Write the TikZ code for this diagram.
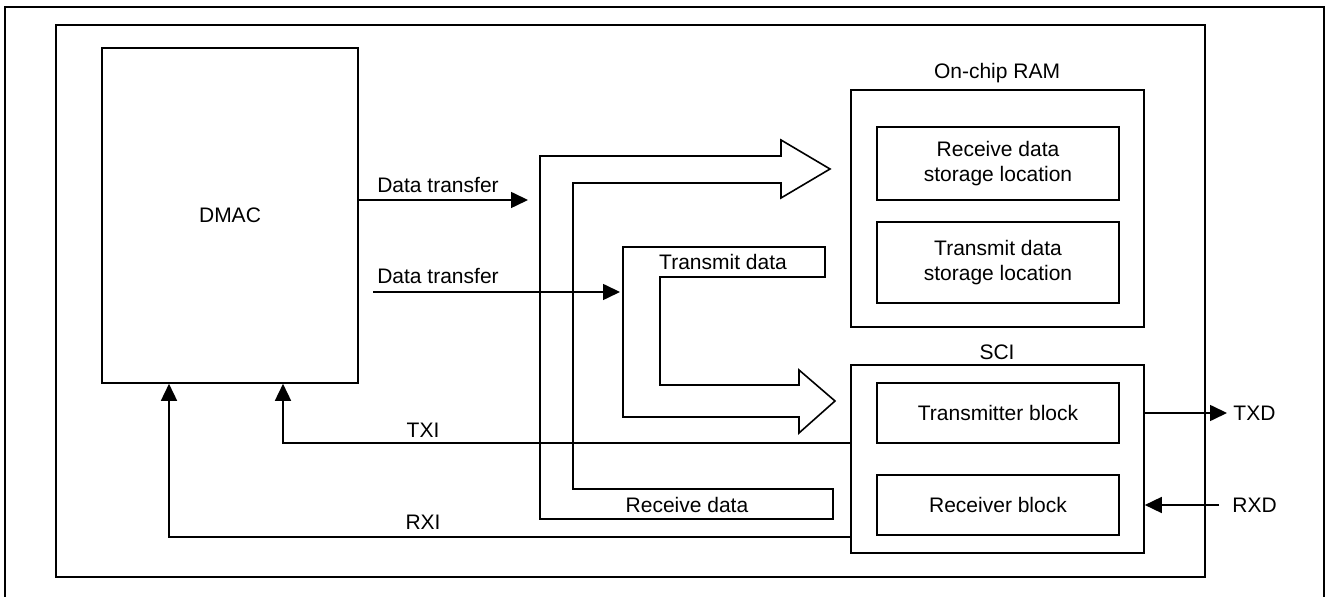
\documentclass[tikz,border=0pt]{standalone}
\usepackage{fontspec}
\setmainfont{Liberation Sans}
\usetikzlibrary{arrows.meta,fit}
\tikzset{
  frame/.style={draw, line width=1pt},
  boxx/.style={draw, line width=0.8pt, inner sep=0pt},
  lbl/.style={inner sep=0pt, font=\fontsize{10.5}{12.6}\selectfont},
  arr/.style={line width=0.8pt, -{Triangle[length=8.5pt,width=8pt]}},
  wire/.style={line width=0.8pt},
  bigarrow/.style={draw, line width=0.8pt, line join=miter}
}
\begin{document}
\begin{tikzpicture}[x=0.5pt,y=-0.5pt]
\useasboundingbox (0,0) rectangle (1326,597);
% outer frame
\draw[frame] (5,600) -- (5,7) -- (1324,7) -- (1324,600);
% inner frame
\node[fit={(56,25)(1205,577)}, frame, inner sep=0pt] (inner) {};
% DMAC
\node[fit={(102,48)(358,383)}, boxx] (dmac) {};
\node[lbl] at (dmac.center) {DMAC};
% On-chip RAM
\node[fit={(851,90)(1144,327)}, boxx] (ram) {};
\node[lbl] (ramlbl) at (997,73) {On-chip RAM};
\node[fit={(877,127)(1119,200)}, boxx] (rxs) {};
\node[lbl, align=center] at (rxs.center) {Receive data\\storage location};
\node[fit={(877,222)(1119,303)}, boxx] (txs) {};
\node[lbl, align=center] at (txs.center) {Transmit data\\storage location};
% SCI
\node[fit={(851,365)(1144,553)}, boxx] (sci) {};
\node[lbl] (scilbl) at (997,352) {SCI};
\node[fit={(877,383)(1119,443)}, boxx] (txb) {};
\node[lbl] at (txb.center) {Transmitter block};
\node[fit={(877,475)(1119,535)}, boxx] (rxb) {};
\node[lbl] at (rxb.center) {Receiver block};
% big arrows
\draw[bigarrow] (540,156) -- (781,156) -- (781,140) -- (830,169) -- (781,198) -- (781,183)
  -- (573,183) -- (573,489) -- (833,489) -- (833,519) -- (540,519) -- cycle;
\node[lbl] (rdlbl) at (687,505) {Receive data};
\draw[bigarrow] (623,247) -- (825,247) -- (825,277) -- (660,277) -- (660,385) -- (799,385)
  -- (799,370) -- (835,401) -- (799,433) -- (799,417) -- (623,417) -- cycle;
\node[lbl] (tdlbl) at (723,262) {Transmit data};
% data transfer arrows
\coordinate (d1e) at (528,200);
\draw[arr] (dmac.north east |- d1e) -- (d1e);
\node[lbl] at (438,185) {Data transfer};
\coordinate (d2s) at (373,292);
\coordinate (d2e) at (620,292);
\draw[arr] (d2s) -- (d2e);
\node[lbl] at (438,276) {Data transfer};
% TXI / RXI
\coordinate (txiy) at (0,443);
\coordinate (txix) at (283,0);
\draw[arr] (sci.west |- txiy) -| (dmac.south -| txix);
\node[lbl] at (423,430) {TXI};
\coordinate (rxiy) at (0,537);
\coordinate (rxix) at (169,0);
\draw[arr] (sci.west |- rxiy) -| (dmac.south -| rxix);
\node[lbl] at (423,522) {RXI};
% TXD / RXD
\coordinate (txde) at (1227,413);
\draw[arr] (sci.east |- txde) -- (txde);
\node[lbl, anchor=west] (txd) at (1233,413) {TXD};
\coordinate (rxds) at (1219,505);
\draw[arr] (rxds) -- (sci.east |- rxds);
\node[lbl, anchor=west] (rxd) at (1232,505) {RXD};
\end{tikzpicture}
\end{document}
